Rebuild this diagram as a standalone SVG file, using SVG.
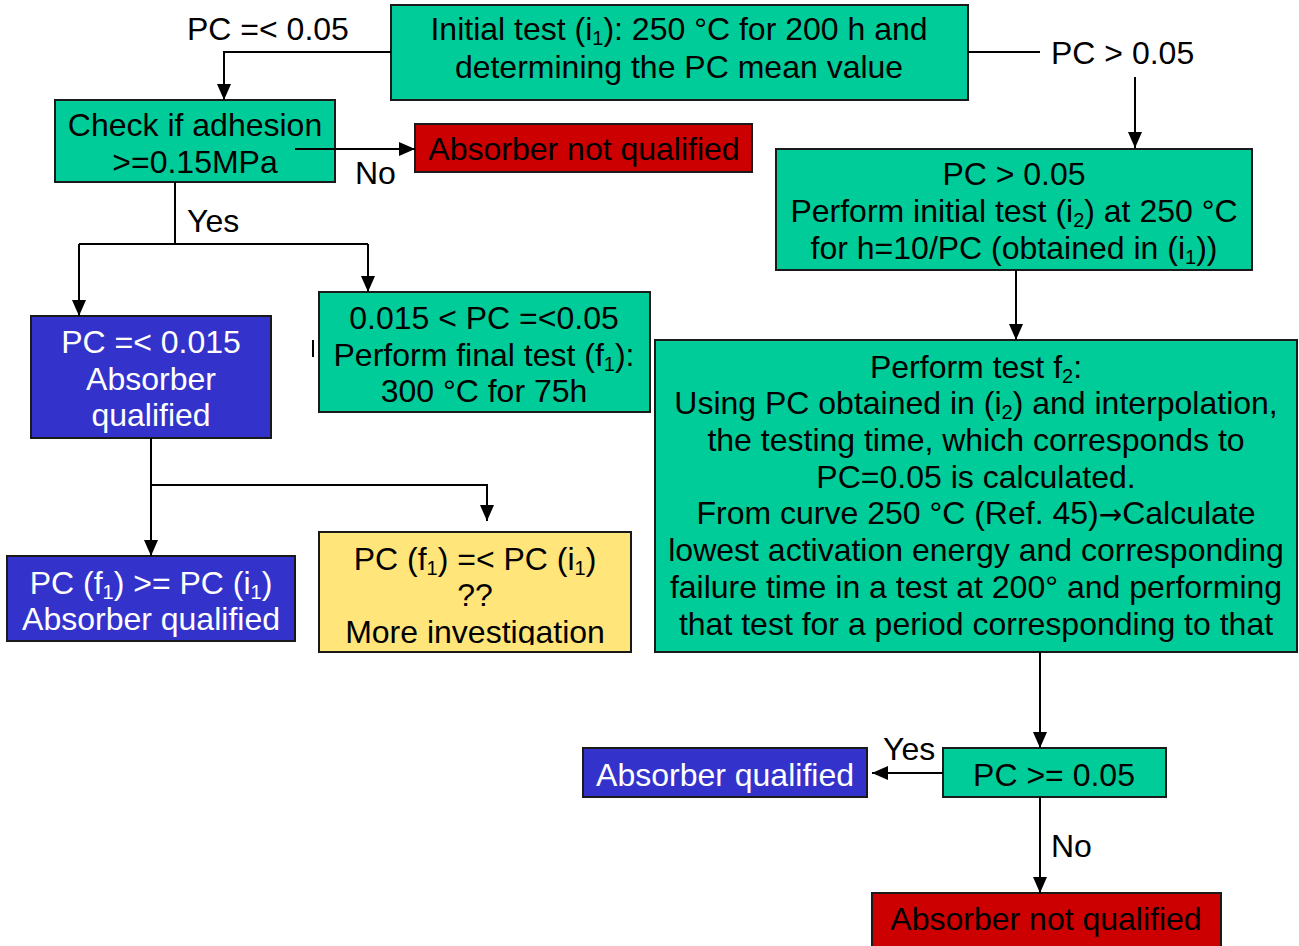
<svg xmlns="http://www.w3.org/2000/svg" width="1299" height="946" viewBox="0 0 1299 946">
  <style>
    text { font-family: "Liberation Sans", Arial, sans-serif; font-size: 32px; fill: #000; text-anchor: middle; }
    .lbl { text-anchor: start; }
    .w { fill: #fff; }
    .sub { font-size: 20px; }
    .sym { font-family: "DejaVu Sans", sans-serif; font-size: 28px; }
    .box { stroke: #1a1a1a; stroke-width: 2; }
    .green { fill: #00CC99; }
    .blue { fill: #3333CC; }
    .red { fill: #CC0000; }
    .yellow { fill: #FFE57A; }
    .wire { fill: none; stroke: #000; stroke-width: 2; }
  </style>
  <defs>
    <marker id="arrow" viewBox="0 0 16 14" refX="16" refY="7" markerWidth="16" markerHeight="14" markerUnits="userSpaceOnUse" orient="auto">
      <path d="M0,0 L16,7 L0,14 z" fill="#000"/>
    </marker>
    <clipPath id="clipYellow">
      <rect x="319" y="532" width="312" height="113"/>
    </clipPath>
  </defs>
  <rect width="1299" height="946" fill="#fff"/>

  <g id="initial-test">
    <rect class="box green" x="391" y="5" width="577" height="95"/>
    <text x="679" y="40">Initial test (i<tspan class="sub" dy="5">1</tspan><tspan dy="-5">): 250 °C for 200 h and</tspan></text>
    <text x="679" y="78">determining the PC mean value</text>
  </g>

  <g id="check-adhesion">
    <rect class="box green" x="55" y="100" width="280" height="82"/>
    <text x="195" y="136">Check if adhesion</text>
    <text x="195" y="173">&gt;=0.15MPa</text>
  </g>

  <g id="not-qualified-1">
    <rect class="box red" x="415" y="124" width="337" height="48"/>
    <text x="584" y="160">Absorber not qualified</text>
  </g>

  <g id="pc-low">
    <rect class="box blue" x="31" y="316" width="240" height="122"/>
    <text class="w" x="151" y="353">PC =&lt; 0.015</text>
    <text class="w" x="151" y="390">Absorber</text>
    <text class="w" x="151" y="426">qualified</text>
  </g>

  <g id="final-test-f1">
    <rect class="box green" x="319" y="292" width="331" height="120"/>
    <text x="484" y="329">0.015 &lt; PC =&lt;0.05</text>
    <text x="484" y="366">Perform final test (f<tspan class="sub" dy="5">1</tspan><tspan dy="-5">):</tspan></text>
    <text x="484" y="402">300 °C for 75h</text>
  </g>

  <g id="f1-qualified">
    <rect class="box blue" x="7" y="556" width="288" height="85"/>
    <text class="w" x="151" y="594">PC (f<tspan class="sub" dy="5">1</tspan><tspan dy="-5">) &gt;= PC (i</tspan><tspan class="sub" dy="5">1</tspan><tspan dy="-5">)</tspan></text>
    <text class="w" x="151" y="630">Absorber qualified</text>
  </g>

  <g id="more-investigation">
    <rect class="box yellow" x="319" y="532" width="312" height="120"/>
    <g clip-path="url(#clipYellow)">
      <text x="475" y="570">PC (f<tspan class="sub" dy="5">1</tspan><tspan dy="-5">) =&lt; PC (i</tspan><tspan class="sub" dy="5">1</tspan><tspan dy="-5">)</tspan></text>
      <text x="475" y="606">??</text>
      <text x="475" y="643">More investigation</text>
    </g>
  </g>

  <g id="initial-test-i2">
    <rect class="box green" x="776" y="149" width="476" height="121"/>
    <text x="1014" y="185">PC &gt; 0.05</text>
    <text x="1014" y="222">Perform initial test (i<tspan class="sub" dy="5">2</tspan><tspan dy="-5">) at 250 °C</tspan></text>
    <text x="1014" y="259">for h=10/PC (obtained in (i<tspan class="sub" dy="5">1</tspan><tspan dy="-5">))</tspan></text>
  </g>

  <g id="test-f2">
    <rect class="box green" x="655" y="340" width="642" height="312"/>
    <text x="976" y="378">Perform test f<tspan class="sub" dy="5">2</tspan><tspan dy="-5">:</tspan></text>
    <text x="976" y="414">Using PC obtained in (i<tspan class="sub" dy="5">2</tspan><tspan dy="-5">) and interpolation,</tspan></text>
    <text x="976" y="451">the testing time, which corresponds to</text>
    <text x="976" y="488">PC=0.05 is calculated.</text>
    <text x="976" y="524">From curve 250 °C (Ref. 45)<tspan class="sym">→</tspan>Calculate</text>
    <text x="976" y="561">lowest activation energy and corresponding</text>
    <text x="976" y="598">failure time in a test at 200° and performing</text>
    <text x="976" y="635">that test for a period corresponding to that</text>
  </g>

  <g id="pc-check">
    <rect class="box green" x="943" y="748" width="223" height="49"/>
    <text x="1054" y="786">PC &gt;= 0.05</text>
  </g>

  <g id="qualified-final">
    <rect class="box blue" x="583" y="748" width="284" height="49"/>
    <text class="w" x="725" y="786">Absorber qualified</text>
  </g>

  <g id="not-qualified-2">
    <rect class="box red" x="872" y="893" width="349" height="60"/>
    <text x="1046" y="930">Absorber not qualified</text>
  </g>

  <!-- connectors, drawn last so they sit on top of the boxes -->
  <g id="connectors">
    <path class="wire" d="M391,52 H224 V100" marker-end="url(#arrow)"/>
    <path class="wire" d="M968,52 H1040"/>
    <path class="wire" d="M1135,77 V148" marker-end="url(#arrow)"/>
    <path class="wire" d="M295,149 H415" marker-end="url(#arrow)"/>
    <path class="wire" d="M175,182 V244"/>
    <path class="wire" d="M79,244 H368"/>
    <path class="wire" d="M79,244 V316" marker-end="url(#arrow)"/>
    <path class="wire" d="M368,244 V292" marker-end="url(#arrow)"/>
    <path class="wire" d="M313,340 V357"/>
    <path class="wire" d="M151,438 V556" marker-end="url(#arrow)"/>
    <path class="wire" d="M151,485 H487 V521" marker-end="url(#arrow)"/>
    <path class="wire" d="M1016,270 V340" marker-end="url(#arrow)"/>
    <path class="wire" d="M1040,652 V748" marker-end="url(#arrow)"/>
    <path class="wire" d="M943,773 H872" marker-end="url(#arrow)"/>
    <path class="wire" d="M1040,797 V893" marker-end="url(#arrow)"/>
    <text class="lbl" x="187" y="40">PC =&lt; 0.05</text>
    <text class="lbl" x="1051" y="64">PC &gt; 0.05</text>
    <text class="lbl" x="355" y="184">No</text>
    <text class="lbl" x="187" y="232">Yes</text>
    <text class="lbl" x="883" y="760">Yes</text>
    <text class="lbl" x="1051" y="857">No</text>
  </g>
</svg>
